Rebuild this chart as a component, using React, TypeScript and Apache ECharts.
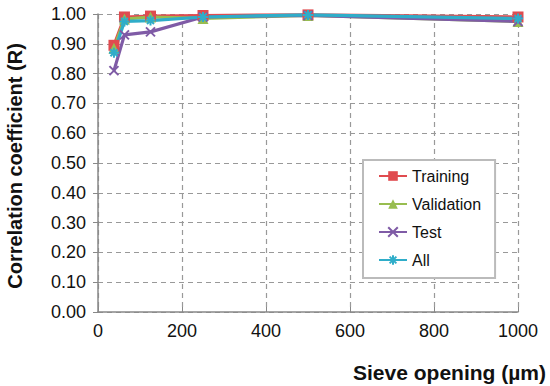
import React, { useEffect, useRef } from "react";
import * as echarts from "echarts";

const sieveOpenings = [38, 63, 125, 250, 500, 1000];
const training = [0.895, 0.99, 0.993, 0.995, 0.997, 0.99];
const validation = [0.885, 0.983, 0.99, 0.985, 0.995, 0.975];
const test = [0.81, 0.93, 0.94, 0.99, 0.995, 0.975];
const all = [0.87, 0.975, 0.978, 0.99, 0.997, 0.985];
const seriesNames = ["Training", "Validation", "Test", "All"];

const X_PATH = "path://M0,0L10,10M10,0L0,10";
const STAR_PATH = "path://M5,0L5,10M0,5L10,5M1.5,1.5L8.5,8.5M8.5,1.5L1.5,8.5";

export default function App() {
  const ref = useRef<HTMLDivElement>(null);
  useEffect(() => {
    if (!ref.current) return;
    const chart = echarts.init(ref.current, null, { renderer: "svg" });
    const pair = (arr: number[]) => sieveOpenings.map((x, i) => [x, arr[i]]);
    const font = "Liberation Sans, Arial, sans-serif";
    const mk = (name: string, data: number[], color: string, symbol: string, size: number, border?: boolean) => ({
      name,
      type: "line",
      data: pair(data),
      symbol,
      symbolSize: size,
      lineStyle: { color, width: 3.2 },
      itemStyle: border
        ? { color, borderColor: color, borderWidth: 2 }
        : { color },
      z: 3,
    });
    chart.setOption({
      animation: false,
      backgroundColor: "#ffffff",
      textStyle: { fontFamily: font },
      grid: { left: 98, right: 32, top: 14, bottom: 74 },
      xAxis: {
        type: "value",
        min: 0,
        max: 1000,
        interval: 200,
        axisLine: { show: true, lineStyle: { color: "#888", width: 1.5 } },
        axisTick: { show: true, inside: true, length: 5, lineStyle: { color: "#888" } },
        axisLabel: { color: "#111", fontSize: 18, margin: 10, fontFamily: font, formatter: (v: number) => String(v) },
        splitLine: { show: true, lineStyle: { color: "#999", type: [5, 4], width: 1.2 } },
      },
      yAxis: {
        type: "value",
        min: 0,
        max: 1,
        interval: 0.1,
        axisLine: { show: true, lineStyle: { color: "#888", width: 1.5 } },
        axisTick: { show: true, length: 5, lineStyle: { color: "#888" } },
        axisLabel: {
          color: "#111",
          fontSize: 18,
          margin: 12,
          fontFamily: font,
          formatter: (v: number) => v.toFixed(2),
        },
        splitLine: { show: true, lineStyle: { color: "#999", type: [5, 4], width: 1.2 } },
      },
      legend: {
        orient: "vertical",
        left: 363,
        top: 160,
        data: seriesNames,
        backgroundColor: "#fff",
        borderColor: "#bbb",
        borderWidth: 2,
        padding: [8, 14, 10, 15],
        itemWidth: 28,
        itemHeight: 12,
        itemGap: 12,
        textStyle: { fontSize: 16, color: "#111", fontFamily: font },
      },
      series: [
        mk("Training", training, "#E04B4F", "rect", 11),
        mk("Validation", validation, "#98BD50", "triangle", 11),
        mk("Test", test, "#7F5BA6", X_PATH, 9, true),
        mk("All", all, "#2FADC9", STAR_PATH, 10, true),
      ],
      graphic: [
        {
          type: "text",
          rotation: Math.PI / 2,
          x: 15,
          y: 166,
          style: {
            text: "Correlation coefficient (R)",
            font: `bold 20px ${font}`,
            fill: "#111",
            align: "center",
            verticalAlign: "middle",
          },
        },
        {
          type: "text",
          x: 546,
          y: 372,
          style: {
            text: "Sieve opening (µm)",
            font: `bold 21px ${font}`,
            fill: "#111",
            align: "right",
            verticalAlign: "middle",
          },
        },
      ],
    });
    return () => chart.dispose();
  }, []);
  return (
    <div
      ref={ref}
      style={{ position: "fixed", left: 0, top: 0, width: 550, height: 386 }}
    />
  );
}
